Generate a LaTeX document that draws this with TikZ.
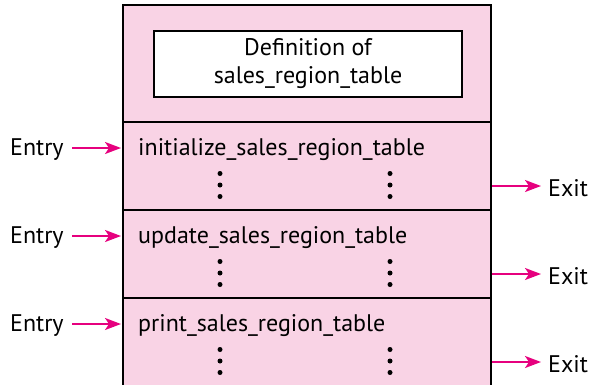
\documentclass[tikz,border=0pt]{standalone}
\usepackage{fontspec}
\setmainfont{PT Sans}
\usetikzlibrary{arrows.meta}
\definecolor{pinkfill}{RGB}{249,211,229}
\definecolor{mag}{RGB}{230,0,126}
\begin{document}
\begin{tikzpicture}[x=1pt,y=-1pt,
  lbl/.style={font=\fontsize{24}{28}\selectfont, inner sep=0pt},
  flow/.style={draw=mag, line width=2pt, -{Stealth[length=16pt,width=12pt,inset=4pt]}},
  vdots/.style={fill=black, circle, inner sep=0pt, minimum size=5pt}]
\useasboundingbox (0,0) rectangle (589,384);
\clip (0,0) rectangle (589,384);
% main body
\fill[pinkfill] (123,5) rectangle (491,390);
\draw[line width=1.2pt] (123,390) -- (123,5) -- (491,5) -- (491,390);
\draw[line width=1.2pt] (123,122) -- (491,122);
\draw[line width=1.2pt] (123,210) -- (491,210);
\draw[line width=1.2pt] (123,298) -- (491,298);
% definition box
\node[draw, fill=white, line width=1.2pt, minimum width=308pt, minimum height=66pt, inner sep=0pt, align=center,
  font=\fontsize{24}{28}\selectfont] (def) at (308,64) {Definition of\\sales\_region\_table};
% sections
\node[lbl, anchor=base west] (s1) at (138,155) {initialize\_sales\_region\_table};
\node[lbl, anchor=base west] (s2) at (138,243) {update\_sales\_region\_table};
\node[lbl, anchor=base west] (s3) at (138,331) {print\_sales\_region\_table};
% dots
\foreach \yy [count=\i] in {185,273,361} {
  \foreach \xx [count=\j] in {220,390} {
    \node[vdots] (d\i\j a) at (\xx,\yy-11.5) {};
    \node[vdots] (d\i\j b) at (\xx,\yy) {};
    \node[vdots] (d\i\j c) at (\xx,\yy+11.5) {};
  }
}
% entries
\foreach \yy [count=\i] in {148,236,324} {
  \node[lbl, anchor=base west] (en\i) at (10,\yy+7) {Entry};
  \coordinate (ein\i) at (121,\yy);
  \coordinate (es\i) at (72,\yy);
  \draw[flow] (es\i) -- (ein\i);
}
% exits
\foreach \yy [count=\i] in {186,274,362} {
  \node[lbl, anchor=base west] (ex\i) at (548,\yy+10) {Exit};
  \coordinate (eo\i) at (492,\yy);
  \coordinate (ee\i) at (541,\yy);
  \draw[flow] (eo\i) -- (ee\i);
}
\end{tikzpicture}
\end{document}
